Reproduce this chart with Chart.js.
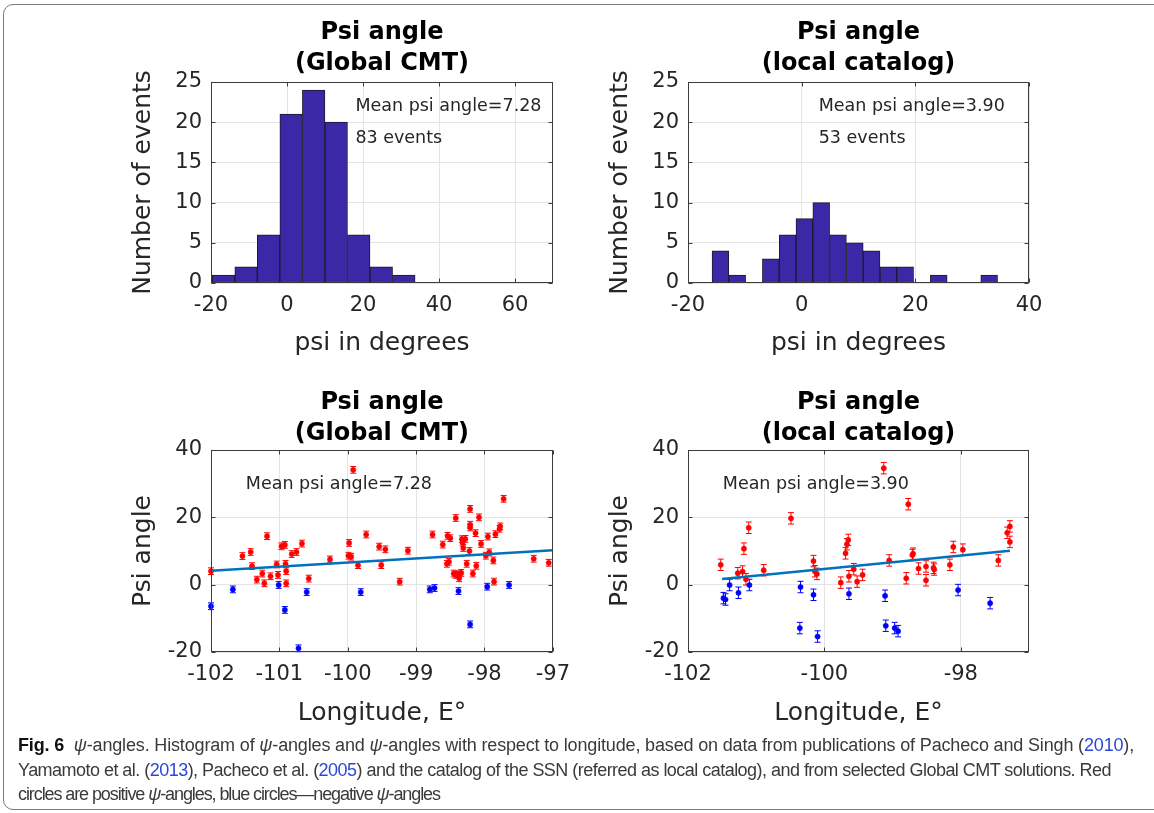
<!DOCTYPE html>
<html>
<head>
<meta charset="utf-8">
<script src="https://cdn.jsdelivr.net/npm/chart.js@4.4.0/dist/chart.umd.min.js"></script>
<style>
  body { margin: 0; background: #fff; width: 1154px; height: 813px; overflow: hidden; position: relative; }
  .frame { position: absolute; left: 3px; top: 4px; width: 1170px; height: 804px; border: 1.5px solid #7a7a7a; border-radius: 10px; }
  canvas { position: absolute; }
  #caption { position: absolute; left: 18px; top: 733px; font-family: 'Liberation Sans'; font-size: 18px; line-height: 24.5px; color: #3a3a3a; white-space: nowrap; }
  #caption div { display: table; }
  #caption b { color: #111; }
  #caption a { color: #2b47d9; text-decoration: none; }
</style>
</head>
<body>
<div class="frame"></div>
<canvas id="histGlobal" width="470" height="355" style="left:110px;top:10px"></canvas>
<canvas id="histLocal" width="470" height="355" style="left:587px;top:10px"></canvas>
<canvas id="lonGlobal" width="470" height="355" style="left:110px;top:380px"></canvas>
<canvas id="lonLocal" width="470" height="355" style="left:587px;top:380px"></canvas>
<div id="caption">
  <div data-w="1116"><b>Fig. 6</b>&nbsp; <i>ψ</i>-angles. Histogram of <i>ψ</i>-angles and <i>ψ</i>-angles with respect to longitude, based on data from publications of Pacheco and Singh (<a>2010</a>),</div>
  <div data-w="1093">Yamamoto et al. (<a>2013</a>), Pacheco et al. (<a>2005</a>) and the catalog of the SSN (referred as local catalog), and from selected Global CMT solutions. Red</div>
  <div data-w="422">circles are positive <i>ψ</i>-angles, blue circles—negative <i>ψ</i>-angles</div>
</div>
<script>
// histogram bins (centres) and counts
const globalBinCenters = [-16.70, -10.77, -4.84, 1.09, 7.02, 12.95, 18.88, 24.81, 30.74];
const globalCounts = [1, 2, 6, 21, 24, 20, 6, 2, 1];
const localBinCenters = [-14.29, -11.34, -8.38, -5.43, -2.47, 0.48, 3.44, 6.39, 9.35, 12.30, 15.26, 18.21, 21.17, 24.12, 27.08, 30.03, 32.99];
const localCounts = [4, 1, 0, 3, 6, 8, 10, 6, 5, 4, 2, 2, 0, 1, 0, 0, 1];

// psi vs longitude, Global CMT
const gPosLon = [-102.0, -101.54, -101.42, -101.40, -101.33, -101.25, -101.22, -101.18, -101.13, -101.04, -101.02, -100.97, -100.92, -100.91, -100.90, -100.90, -100.82, -100.75, -100.67, -100.57, -100.26, -99.98, -99.99, -99.95, -99.92, -99.85, -99.73, -99.54, -99.51, -99.45, -99.24, -99.12, -98.76, -98.61, -98.54, -98.50, -98.55, -98.52, -98.42, -98.45, -98.42, -98.38, -98.37, -98.34, -98.33, -98.32, -98.31, -98.28, -98.26, -98.22, -98.21, -98.21, -98.21, -98.17, -98.13, -98.12, -98.08, -98.05, -97.98, -97.95, -97.93, -97.87, -97.86, -97.84, -97.78, -97.77, -97.72, -97.28, -97.06];
const gPosPsi = [4.0, 8.5, 9.7, 5.5, 1.5, 3.3, 0.4, 14.4, 2.5, 6.0, 2.9, 11.4, 11.8, 6.2, 4.0, 0.4, 9.1, 9.7, 12.2, 1.8, 7.5, 12.4, 8.6, 8.3, 34.1, 5.8, 14.9, 11.3, 5.8, 10.5, 0.9, 10.1, 14.9, 11.9, 14.5, 13.8, 6.2, 6.8, 19.8, 3.3, 2.9, 3.1, 1.9, 3.5, 13.5, 12.5, 10.9, 13.6, 6.2, 10.0, 22.5, 17.8, 17.0, 3.3, 15.3, 5.6, 20.0, 12.1, 8.6, 14.3, 9.6, 7.2, 0.9, 15.0, 16.6, 17.3, 25.5, 7.7, 6.5];
const gNegLon = [-102.0, -101.68, -101.01, -100.92, -100.72, -100.60, -99.81, -98.80, -98.73, -98.38, -98.21, -97.96, -97.64];
const gNegPsi = [-6.4, -1.4, -0.1, -7.5, -18.9, -2.2, -2.2, -1.4, -1.0, -1.9, -11.8, -0.6, -0.1];
const gFitLon = [-102, -97];
const gFitPsi = [4.1, 10.2];

// psi vs longitude, local catalog
const lPosLon = [-101.52, -101.27, -101.20, -101.18, -101.15, -101.11, -100.89, -100.49, -100.16, -100.14, -100.11, -99.76, -99.69, -99.67, -99.65, -99.64, -99.57, -99.52, -99.44, -99.13, -99.05, -98.80, -98.77, -98.71, -98.70, -98.62, -98.51, -98.51, -98.40, -98.39, -98.16, -98.11, -97.97, -97.45, -97.32, -97.28, -97.28];
const lPosPsi = [5.9, 3.4, 3.9, 10.7, 1.6, 16.9, 4.3, 19.7, 7.0, 4.0, 3.2, 0.6, 9.3, 12.0, 13.3, 2.5, 4.6, 0.9, 2.9, 34.6, 7.2, 1.9, 23.9, 8.8, 9.2, 4.8, 5.4, 1.3, 5.0, 4.5, 5.9, 11.2, 10.4, 7.2, 15.4, 17.3, 12.7];
const lNegLon = [-101.48, -101.45, -101.39, -101.26, -101.10, -100.35, -100.36, -100.16, -100.10, -99.64, -99.11, -99.10, -98.97, -98.92, -98.04, -97.57];
const lNegPsi = [-4.0, -4.4, -0.1, -2.4, -0.1, -0.7, -12.9, -3.0, -15.4, -2.7, -3.3, -12.2, -12.9, -13.8, -1.6, -5.5];
const lFitLon = [-101.5, -97.28];
const lFitPsi = [1.7, 10.1];

const gErr = 1.0;
const lErr = 1.7;

const histXTicksGlobal = [-20, 0, 20, 40, 60];
const histXTicksLocal = [-20, 0, 20, 40];
const histYTicks = [0, 5, 10, 15, 20, 25];
const lonTicksGlobal = [-102, -101, -100, -99, -98, -97];
const lonTicksLocal = [-102, -100, -98];
const psiTicks = [-20, 0, 20, 40];

const FONT = 'DejaVu Sans';
const INK = '#262626';

const zip = (xs, ys) => xs.map((x, i) => ({ x: x, y: ys[i] }));

// box, inward ticks, error bars and text notes, MATLAB style
const matlabLook = {
  id: 'matlabLook',
  beforeDatasetsDraw(chart) {
    const ctx = chart.ctx;
    const y = chart.scales.y;
    chart.data.datasets.forEach((ds, i) => {
      if (!ds.errorBar) return;
      const meta = chart.getDatasetMeta(i);
      ctx.save();
      ctx.strokeStyle = ds.borderColor;
      ctx.lineWidth = 1;
      ctx.beginPath();
      meta.data.forEach((pt, j) => {
        const v = ds.data[j].y;
        const y1 = y.getPixelForValue(v + ds.errorBar);
        const y2 = y.getPixelForValue(v - ds.errorBar);
        ctx.moveTo(pt.x, y1); ctx.lineTo(pt.x, y2);
        ctx.moveTo(pt.x - 3, y1); ctx.lineTo(pt.x + 3, y1);
        ctx.moveTo(pt.x - 3, y2); ctx.lineTo(pt.x + 3, y2);
      });
      ctx.stroke();
      ctx.restore();
    });
  },
  afterDraw(chart, args, opts) {
    const { ctx, chartArea: a } = chart;
    const x = chart.scales.x, y = chart.scales.y;
    ctx.save();
    ctx.strokeStyle = '#3c3c3c';
    ctx.lineWidth = 1;
    const L = Math.round(a.left) + 0.5, R = Math.round(a.right) - 0.5;
    const T = Math.round(a.top) + 0.5, B = Math.round(a.bottom) - 0.5;
    ctx.strokeRect(L, T, R - L, B - T);
    const t = 4;
    ctx.beginPath();
    x.ticks.forEach(tk => {
      const px = Math.round(x.getPixelForValue(tk.value)) + 0.5;
      ctx.moveTo(px, B); ctx.lineTo(px, B - t);
      ctx.moveTo(px, T); ctx.lineTo(px, T + t);
    });
    y.ticks.forEach(tk => {
      const py = Math.round(y.getPixelForValue(tk.value)) + 0.5;
      ctx.moveTo(L, py); ctx.lineTo(L + t, py);
      ctx.moveTo(R, py); ctx.lineTo(R - t, py);
    });
    ctx.stroke();
    ctx.fillStyle = INK;
    ctx.font = '17.5px ' + FONT;
    ctx.textBaseline = 'middle';
    ctx.textAlign = 'left';
    (opts.notes || []).forEach(n => {
      ctx.fillText(n.text, x.getPixelForValue(n.x), y.getPixelForValue(n.y));
    });
    ctx.restore();
  }
};

function axes(xMin, xMax, xTicks, yMin, yMax, yTicks, xTitle, yTitle, xHeight) {
  const grid = { color: '#e4e4e4', drawTicks: false, offset: false };
  const tickFont = { family: FONT, size: 21 };
  const titleFont = { family: FONT, size: 25 };
  return {
    x: {
      type: 'linear', min: xMin, max: xMax, offset: false,
      afterBuildTicks: s => { s.ticks = xTicks.map(v => ({ value: v })); },
      afterFit: s => { s.height = xHeight; },
      grid: grid, border: { display: false },
      ticks: { padding: 10, font: tickFont, color: INK, maxRotation: 0, autoSkip: false },
      title: { display: true, text: xTitle, font: titleFont, color: INK, padding: { top: 7, bottom: 7 } }
    },
    y: {
      type: 'linear', min: yMin, max: yMax,
      afterBuildTicks: s => { s.ticks = yTicks.map(v => ({ value: v })); },
      afterFit: s => { s.width = 101; },
      grid: grid, border: { display: false },
      ticks: { padding: 9, font: tickFont, color: INK, autoSkip: false },
      title: { display: true, text: yTitle, font: titleFont, color: INK, padding: { top: 18, bottom: 0 } }
    }
  };
}

function titleOpts(second, padBottom) {
  return {
    display: true, text: ['Psi angle', second], fullSize: false, color: '#000',
    font: { family: FONT, size: 24, weight: 'bold', lineHeight: 1.3 },
    padding: { top: 6.8, bottom: padBottom }
  };
}

function histChart(id, centers, counts, xMax, xTicks, second, noteX, mean, n, padRight) {
  new Chart(document.getElementById(id), {
    type: 'bar',
    data: {
      datasets: [{
        data: zip(centers, counts),
        backgroundColor: '#3b28a6',
        borderColor: '#1c1a2c',
        borderWidth: 1,
        borderSkipped: false,
        barPercentage: 1,
        categoryPercentage: 1
      }]
    },
    options: {
      responsive: false, animation: false, events: [],
      layout: { padding: { right: padRight } },
      scales: axes(-20, xMax, xTicks, 0, 25, histYTicks, 'psi in degrees', 'Number of events', 82),
      plugins: {
        legend: { display: false },
        tooltip: { enabled: false },
        title: titleOpts(second, 2.8),
        matlabLook: { notes: [
          { text: 'Mean psi angle=' + mean, x: noteX, y: 22 },
          { text: n + ' events', x: noteX, y: 18 }
        ] }
      }
    },
    plugins: [matlabLook]
  });
}

function lonChart(id, posLon, posPsi, negLon, negPsi, fitLon, fitPsi, err, xTicks, second, mean, padRight) {
  new Chart(document.getElementById(id), {
    type: 'scatter',
    data: {
      datasets: [
        { type: 'line', data: zip(fitLon, fitPsi), borderColor: '#0072bd', borderWidth: 2.5, pointRadius: 0, fill: false },
        { data: zip(posLon, posPsi), backgroundColor: '#ff0000', borderColor: '#ff0000', pointRadius: 2.6, borderWidth: 0.5, errorBar: err, clip: false },
        { data: zip(negLon, negPsi), backgroundColor: '#0000ff', borderColor: '#0000ff', pointRadius: 2.6, borderWidth: 0.5, errorBar: err, clip: false }
      ]
    },
    options: {
      responsive: false, animation: false, events: [],
      layout: { padding: { right: padRight } },
      scales: axes(-102, -97, xTicks, -20, 40, psiTicks, 'Longitude, E°', 'Psi angle', 83),
      plugins: {
        legend: { display: false },
        tooltip: { enabled: false },
        title: titleOpts(second, 0.8),
        matlabLook: { notes: [{ text: 'Mean psi angle=' + mean, x: -101.49, y: 29.8 }] }
      }
    },
    plugins: [matlabLook]
  });
}

histChart('histGlobal', globalBinCenters, globalCounts, 70, histXTicksGlobal, '(Global CMT)', 18, '7.28', 83, 27);
histChart('histLocal', localBinCenters, localCounts, 40, histXTicksLocal, '(local catalog)', 3, '3.90', 53, 28);
lonChart('lonGlobal', gPosLon, gPosPsi, gNegLon, gNegPsi, gFitLon, gFitPsi, gErr, lonTicksGlobal, '(Global CMT)', '7.28', 27);
lonChart('lonLocal', lPosLon, lPosPsi, lNegLon, lNegPsi, lFitLon, lFitPsi, lErr, lonTicksLocal, '(local catalog)', '3.90', 28);

// stretch each caption line to the width it has in the figure
document.querySelectorAll('#caption div').forEach(line => {
  const target = Number(line.dataset.w);
  const chars = line.textContent.trim().length;
  const extra = (target - line.getBoundingClientRect().width) / chars;
  line.style.letterSpacing = extra.toFixed(3) + 'px';
});
</script>
</body>
</html>
